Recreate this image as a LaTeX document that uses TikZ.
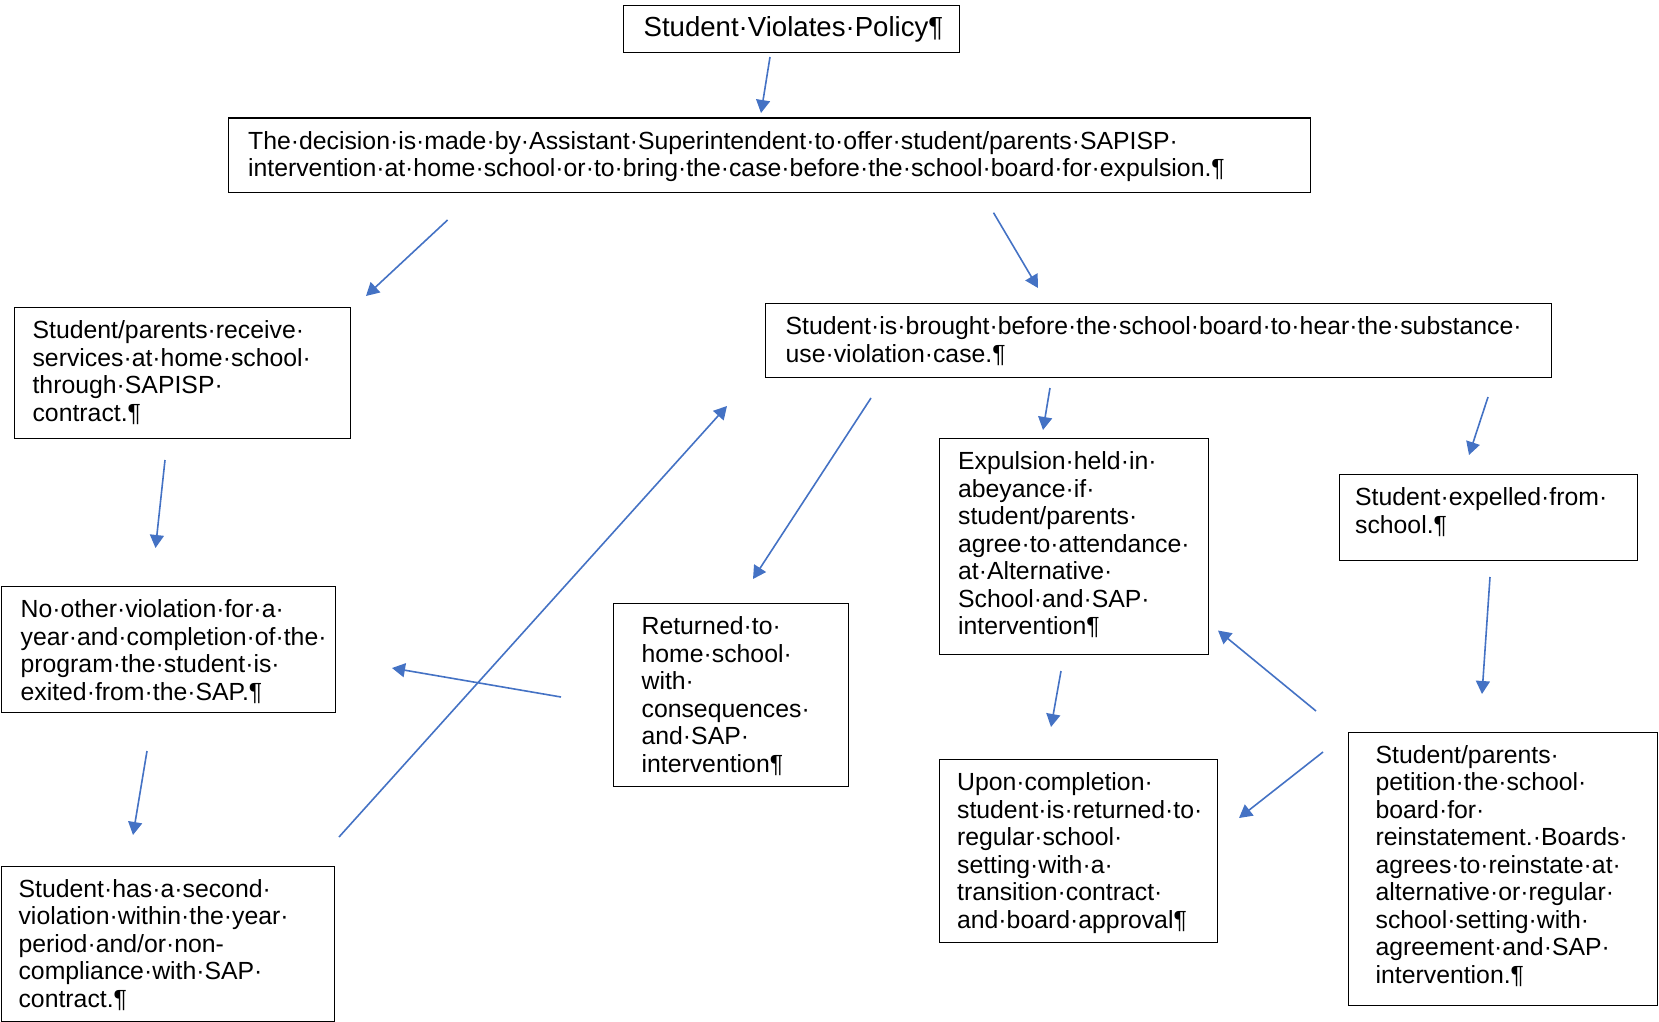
\documentclass[tikz,border=0pt]{standalone}
\usepackage{fontspec}
\setmainfont{Liberation Sans}
\usetikzlibrary{arrows.meta}
\definecolor{arrowblue}{HTML}{4472C4}
\begin{document}
\begin{tikzpicture}[x=0.5pt,y=-0.5pt,
  stepbox/.style={draw, line width=0.6pt, anchor=north west, align=left,
    inner ysep=0pt, text height=15.5pt, font=\fontsize{12.4}{13.75}\selectfont},
  flow/.style={draw=arrowblue, line width=0.8pt,
    -{Triangle[length=6.5pt,width=7pt]}}]
\useasboundingbox (0,0) rectangle (1659,1022);

% process boxes
\node[stepbox, inner xsep=10pt, text width=148pt, text depth=8pt,
      font=\fontsize{13.8}{16}\selectfont] (n1) at (623,5)
  {Student·Violates·Policy¶};
\node[stepbox, inner xsep=10pt, text width=521.25pt, text depth=21.5pt] (n2) at (227.5,117.5)
  {The·decision·is·made·by·Assistant·Superintendent·to·offer·student/parents·SAPISP·\\
   intervention·at·home·school·or·to·bring·the·case·before·the·school·board·for·expulsion.¶};
\node[stepbox, inner xsep=9pt, text width=150pt, text depth=50pt] (n3) at (14,307)
  {Student/parents·receive·\\services·at·home·school·\\through·SAPISP·\\contract.¶};
\node[stepbox, inner xsep=10pt, text width=373pt, text depth=21.5pt] (n4) at (765,303)
  {Student·is·brought·before·the·school·board·to·hear·the·substance·\\use·violation·case.¶};
\node[stepbox, inner xsep=9.5pt, text width=115.75pt, text depth=92.5pt] (n5) at (938.5,438)
  {Expulsion·held·in·\\abeyance·if·\\student/parents·\\agree·to·attendance·\\at·Alternative·\\School·and·SAP·\\intervention¶};
\node[stepbox, inner xsep=8pt, text width=133pt, text depth=27.5pt] (n6) at (1338.5,474)
  {Student·expelled·from·\\school.¶};
\node[stepbox, inner xsep=9.5pt, text width=148pt, text depth=47.5pt] (n7) at (1,586)
  {No·other·violation·for·a·\\year·and·completion·of·the·\\program·the·student·is·\\exited·from·the·SAP.¶};
\node[stepbox, inner xsep=8.5pt, text width=149.5pt, text depth=62.25pt] (n8) at (1,865.5)
  {Student·has·a·second·\\violation·within·the·year·\\period·and/or·non-\\compliance·with·SAP·\\contract.¶};
\node[stepbox, inner xsep=14.25pt, text width=89pt, text depth=76pt] (n9) at (612.5,603)
  {Returned·to·\\home·school·\\with·\\consequences·\\and·SAP·\\intervention¶};
\node[stepbox, inner xsep=9pt, text width=121pt, text depth=76pt] (n10) at (938.5,759)
  {Upon·completion·\\student·is·returned·to·\\regular·school·\\setting·with·a·\\transition·contract·\\and·board·approval¶};
\node[stepbox, inner xsep=13.75pt, text width=127.25pt, text depth=121.25pt] (n11) at (1347.5,731.5)
  {Student/parents·\\petition·the·school·\\board·for·\\reinstatement.·Boards·\\agrees·to·reinstate·at·\\alternative·or·regular·\\school·setting·with·\\agreement·and·SAP·\\intervention.¶};

% free-floating arrow ends
\coordinate (p1a) at (770,57);    \coordinate (p1b) at (761,113);
\coordinate (p2a) at (447.6,220); \coordinate (p2b) at (366,296);
\coordinate (p3a) at (993.5,212.7); \coordinate (p3b) at (1038,288);
\coordinate (p4a) at (165,460);   \coordinate (p4b) at (155.5,548);
\coordinate (p5a) at (147,751);   \coordinate (p5b) at (133,835);
\coordinate (p6a) at (339,837);   \coordinate (p6b) at (727,406);
\coordinate (p7a) at (561,697);   \coordinate (p7b) at (392,668);
\coordinate (p8a) at (871,398);   \coordinate (p8b) at (753,579);
\coordinate (p9a) at (1050,388);  \coordinate (p9b) at (1043,430);
\coordinate (p10a) at (1488,397); \coordinate (p10b) at (1469,455);
\coordinate (p11a) at (1061,671); \coordinate (p11b) at (1051,727);
\coordinate (p12a) at (1490,577); \coordinate (p12b) at (1482,694);
\coordinate (p13a) at (1316,711); \coordinate (p13b) at (1218,630.5);
\coordinate (p14a) at (1323,752); \coordinate (p14b) at (1239,818);

% connectors
\draw[flow] (p1a) -- (p1b);
\draw[flow] (p2a) -- (p2b);
\draw[flow] (p3a) -- (p3b);
\draw[flow] (p4a) -- (p4b);
\draw[flow] (p5a) -- (p5b);
\draw[flow] (p6a) -- (p6b);
\draw[flow] (p7a) -- (p7b);
\draw[flow] (p8a) -- (p8b);
\draw[flow] (p9a) -- (p9b);
\draw[flow] (p10a) -- (p10b);
\draw[flow] (p11a) -- (p11b);
\draw[flow] (p12a) -- (p12b);
\draw[flow] (p13a) -- (p13b);
\draw[flow] (p14a) -- (p14b);
\end{tikzpicture}
\end{document}
